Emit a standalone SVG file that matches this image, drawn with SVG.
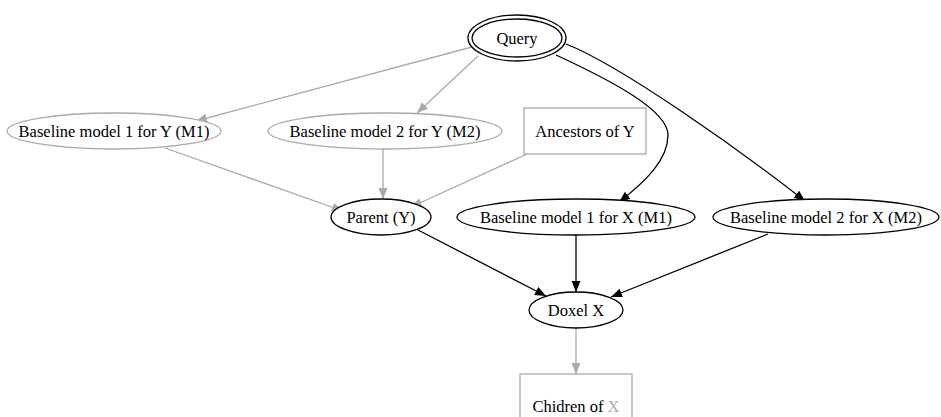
<svg xmlns="http://www.w3.org/2000/svg" width="941" height="417" viewBox="0 0 941 417">
<defs>
<marker id="ab" markerUnits="userSpaceOnUse" markerWidth="12" markerHeight="10" refX="11" refY="4.5" orient="auto"><path d="M0,0 L11,4.5 L0,9 z" fill="#000"/></marker>
<marker id="ag" markerUnits="userSpaceOnUse" markerWidth="12" markerHeight="10" refX="11" refY="4.5" orient="auto"><path d="M0,0 L11,4.5 L0,9 z" fill="#aaa"/></marker>
</defs>
<style>
text{font-family:"Liberation Serif","Times New Roman",serif;font-size:16.5px;text-anchor:middle;fill:#000}
.n{fill:#fff;stroke:#000;stroke-width:1.3}
.g{fill:#fff;stroke:#aaa;stroke-width:1.3}
.eb{fill:none;stroke:#000;stroke-width:1.3;marker-end:url(#ab)}
.eg{fill:none;stroke:#aaa;stroke-width:1.3;marker-end:url(#ag)}
</style>
<rect width="941" height="417" fill="#fff"/>
<g id="edges">
<path class="eg" d="M472,47 L196,121"/>
<path class="eg" d="M478,56 L417,113"/>
<path class="eb" d="M556,55 C610,80 668,110 668,135 C668,160 645,182 619,202"/>
<path class="eb" d="M566,44 C620,65 740,150 805,201"/>
<path class="eg" d="M165,148 L343,211"/>
<path class="eg" d="M383,149 L383,199"/>
<path class="eg" d="M527,154 L411,207"/>
<path class="eb" d="M418,230 L546,296"/>
<path class="eb" d="M576,235 L576,292"/>
<path class="eb" d="M768,234 L611,297"/>
<path class="eg" d="M576,328 L576,374"/>
</g>
<g id="query"><ellipse class="n" cx="517" cy="38" rx="49" ry="23"/><ellipse class="n" cx="517" cy="38" rx="45" ry="19"/><text x="517" y="44">Query</text></g>
<g id="bm1y"><ellipse class="g" cx="114" cy="131" rx="107" ry="18"/><text x="114" y="137">Baseline model 1 for Y (M1)</text></g>
<g id="bm2y"><ellipse class="g" cx="385" cy="131" rx="117" ry="18"/><text x="385" y="137">Baseline model 2 for Y (M2)</text></g>
<g id="anc"><rect class="g" x="524" y="108" width="122" height="46"/><text x="585" y="137">Ancestors of Y</text></g>
<g id="parent"><ellipse class="n" cx="381" cy="217" rx="50" ry="18"/><text x="381" y="223">Parent (Y)</text></g>
<g id="bm1x"><ellipse class="n" cx="576" cy="217" rx="119" ry="18"/><text x="576" y="223">Baseline model 1 for X (M1)</text></g>
<g id="bm2x"><ellipse class="n" cx="826" cy="217" rx="113" ry="18"/><text x="826" y="223">Baseline model 2 for X (M2)</text></g>
<g id="doxel"><ellipse class="n" cx="576" cy="310" rx="47" ry="18"/><text x="576" y="316">Doxel X</text></g>
<g id="children"><rect class="g" x="520" y="374" width="112" height="50"/><text x="576" y="412">Chidren of <tspan fill="#aaa">X</tspan></text></g>
</svg>
